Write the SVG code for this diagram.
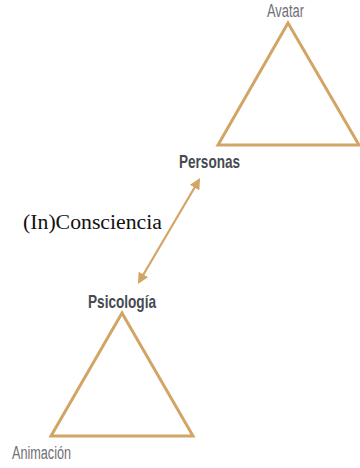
<svg xmlns="http://www.w3.org/2000/svg" width="360" height="468" viewBox="0 0 360 468">
<defs>
<style>
.tri{fill:none;stroke:#d2a566;stroke-width:3;stroke-linejoin:miter}
.lbl{font-family:"Liberation Sans",Arial,sans-serif;fill:#6f7076;font-size:18px}
.bold{font-family:"Liberation Sans",Arial,sans-serif;fill:#474a52;font-size:18.5px;font-weight:bold}
.serif{font-family:"Liberation Serif","Times New Roman",serif;fill:#111;font-size:20px}
.conn{stroke:#d2a566;stroke-width:2.2;fill:none}
</style>
<marker id="ah" viewBox="0 0 10 10" refX="8" refY="5" markerWidth="5" markerHeight="5" orient="auto-start-reverse" markerUnits="strokeWidth">
<path d="M0,0 L10,5 L0,10 z" fill="#d2a566"/>
</marker>
</defs>
<rect width="360" height="468" fill="#fff"/>
<g id="avatar">
<polygon class="tri" points="288,23 218,145 359,145"/>
<text class="lbl" x="267" y="17" textLength="37" lengthAdjust="spacingAndGlyphs">Avatar</text>
</g>
<g id="personas">
<text class="bold" x="179" y="168" textLength="61" lengthAdjust="spacingAndGlyphs">Personas</text>
</g>
<g id="psicologia">
<text class="bold" x="88" y="308" textLength="68" lengthAdjust="spacingAndGlyphs">Psicología</text>
</g>
<g id="animacion">
<polygon class="tri" points="122,313 51,436 193,436"/>
<text class="lbl" x="12" y="459" textLength="59" lengthAdjust="spacingAndGlyphs">Animación</text>
</g>
<g id="connectors">
<line class="conn" x1="199" y1="180" x2="139" y2="282" marker-start="url(#ah)" marker-end="url(#ah)"/>
<text class="serif" x="23" y="229" textLength="139" lengthAdjust="spacingAndGlyphs">(In)Consciencia</text>
</g>
</svg>
